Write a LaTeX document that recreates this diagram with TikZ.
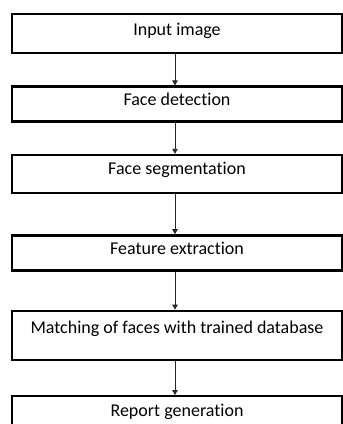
\documentclass[tikz,border=0pt]{standalone}
\usepackage{fontspec}
\setmainfont{Carlito}[Ligatures=NoCommon]
\usetikzlibrary{arrows.meta, positioning}

\begin{document}
\begin{tikzpicture}[
    x=1pt, y=1pt,
    font=\fontsize{18}{20}\selectfont,
    stage/.style={draw, line width=2.4pt, inner xsep=0pt, inner ysep=0pt, minimum width=330pt, align=center},
    flow/.style={-{Triangle[width=5.5pt,length=5pt]}, line width=0.9pt, draw=black!85},
]
\path[use as bounding box, clip] (0,0) rectangle (343,-424);

% processing stages, top to bottom
\node[stage, anchor=north, text height=21pt, text depth=18pt] (input) at (177,-13) {Input image};
\node[stage, below=31pt of input, text height=19pt, text depth=16pt] (detect) {Face detection};
\node[stage, below=31pt of detect, text height=19pt, text depth=19pt] (segment) {Face segmentation};
\node[stage, below=40pt of segment, text height=19pt, text depth=16pt] (feature) {Feature extraction};
\node[stage, below=38pt of feature, text height=23pt, text depth=26pt] (match) {Matching of faces with trained database};
\node[stage, below=34pt of match, text height=20pt, text depth=40pt] (report) {Report generation};

\draw[flow] ([xshift=-2pt]input.south) -- ([xshift=-2pt]detect.north);
\draw[flow] ([xshift=-2pt]detect.south) -- ([xshift=-2pt]segment.north);
\draw[flow] ([xshift=-2pt]segment.south) -- ([xshift=-2pt]feature.north);
\draw[flow] ([xshift=-2pt]feature.south) -- ([xshift=-2pt]match.north);
\draw[flow] ([xshift=-2pt]match.south) -- ([xshift=-2pt]report.north);
\end{tikzpicture}
\end{document}
